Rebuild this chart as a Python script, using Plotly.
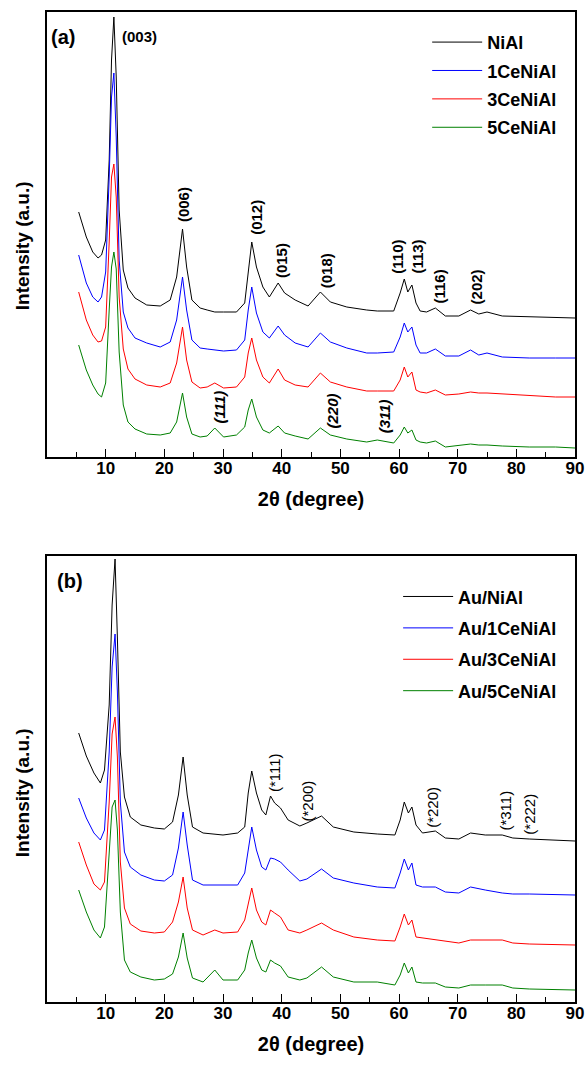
import plotly.graph_objects as go

# ---------------- data: panel (a) ----------------
theta_a = [5.4, 6.7, 7.8, 8.7, 9.3, 10.0, 10.6, 11.0, 11.4, 11.8, 12.3, 13.0, 13.8, 15.0, 17.0,
           19.3, 21.0, 22.1, 23.1, 23.8, 24.7, 26.1, 27.3, 28.6, 30.1, 32.3, 33.7, 34.3, 34.9,
           35.7, 36.8, 37.9, 39.4, 40.5, 42.3, 44.5, 46.6, 48.3, 51.1, 54.5, 56.3, 59.1, 60.2,
           60.9, 61.5, 62.2, 62.9, 63.6, 64.7, 66.2, 67.9, 70.2, 72.2, 73.6, 75.0, 77.6, 82.2,
           86.7, 90.0]
nial = [245, 220, 205, 199, 202, 217, 297, 397, 440, 380, 247, 187, 169, 159, 152,
        151, 157, 180, 228, 190, 157, 149, 147, 145, 145, 145, 154, 184, 215,
        190, 170, 160, 174, 164, 157, 151, 165, 155, 150, 147, 146, 146, 164,
        178, 165, 172, 154, 146, 145, 149, 141, 141, 147, 143, 145, 141, 140,
        139, 139]
ce1_nial = [202, 174, 160, 155, 160, 185, 280, 360, 384, 320, 197, 145, 129, 119, 114,
            110, 115, 137, 180, 147, 117, 109, 108, 107, 106, 107, 117, 147, 170,
            144, 125, 119, 131, 122, 114, 110, 124, 115, 109, 104, 104, 105, 120,
            134, 125, 130, 112, 104, 104, 108, 101, 101, 107, 102, 104, 100, 99,
            99, 99]
ce3_nial = [165, 137, 122, 115, 116, 130, 215, 280, 293, 260, 160, 108, 88, 78, 72,
            70, 74, 94, 130, 97, 75, 69, 70, 74, 69, 70, 80, 104, 119,
            97, 80, 74, 88, 77, 72, 70, 84, 75, 70, 66, 66, 66, 77,
            90, 80, 85, 67, 65, 64, 67, 62, 63, 65, 64, 64, 63, 61,
            60, 60]
ce5_nial = [112, 87, 72, 63, 60, 74, 147, 190, 205, 188, 105, 52, 35, 28, 23,
            22, 24, 35, 64, 40, 23, 20, 21, 29, 20, 22, 30, 47, 58,
            40, 27, 24, 31, 24, 21, 18, 29, 22, 18, 15, 17, 14, 22,
            30, 24, 27, 17, 15, 14, 16, 10, 12, 13, 12, 12, 11, 10,
            10, 9]
names_a = ["NiAl", "1CeNiAl", "3CeNiAl", "5CeNiAl"]

# ---------------- data: panel (b) ----------------
theta_b = [5.4, 6.7, 8.0, 9.1, 9.8, 10.6, 11.1, 11.6, 12.0, 12.5, 13.2, 14.2, 16.0, 18.3,
           20.0, 21.4, 22.4, 23.2, 23.9, 24.8, 26.6, 28.6, 30.0, 32.5, 33.7, 34.3, 34.9,
           35.7, 36.6, 37.3, 38.1, 38.8, 39.8, 41.1, 43.1, 44.3, 46.8, 48.8, 52.3, 56.3,
           59.3, 60.2, 60.9, 61.6, 62.2, 62.9, 64.0, 66.2, 67.9, 70.2, 72.2, 74.7, 77.6,
           79.4, 82.2, 90.0]
au_nial = [269, 246, 229, 219, 232, 297, 397, 443, 364, 250, 205, 185, 177, 174,
           173, 180, 207, 245, 207, 175, 169, 168, 167, 169, 175, 209, 231,
           209, 192, 187, 206, 199, 194, 182, 176, 179, 186, 175, 170, 168,
           167, 182, 200, 189, 195, 177, 169, 171, 164, 163, 169, 167, 167,
           164, 163, 161]
au_ce1 = [204, 184, 169, 162, 172, 250, 335, 368, 310, 200, 150, 135, 127, 122,
          121, 127, 154, 190, 157, 122, 117, 117, 117, 117, 129, 152, 175,
          152, 135, 132, 144, 143, 140, 132, 121, 123, 133, 124, 119, 115,
          114, 129, 143, 132, 139, 117, 115, 115, 110, 109, 115, 112, 109,
          108, 108, 107]
au_ce3 = [160, 137, 118, 112, 120, 200, 268, 285, 245, 140, 94, 78, 71, 69,
          70, 80, 100, 125, 94, 72, 67, 72, 69, 70, 82, 99, 114,
          92, 80, 77, 92, 89, 85, 72, 69, 72, 79, 72, 65, 62,
          61, 75, 88, 77, 82, 65, 64, 62, 61, 59, 62, 62, 62,
          59, 58, 57]
au_ce5 = [112, 90, 72, 64, 75, 150, 195, 202, 172, 90, 42, 30, 25, 22,
          23, 28, 45, 69, 44, 24, 20, 32, 22, 22, 32, 49, 62,
          44, 32, 30, 42, 39, 36, 25, 22, 24, 35, 25, 20, 20,
          17, 27, 39, 29, 35, 20, 19, 19, 15, 14, 17, 17, 17,
          14, 13, 12]
names_b = ["Au/NiAl", "Au/1CeNiAl", "Au/3CeNiAl", "Au/5CeNiAl"]

colors = ["#000000", "#0000ff", "#ff0000", "#008000"]

# tick labels
tick_vals = [10, 20, 30, 40, 50, 60, 70, 80, 90]
tick_text = ["10", "20", "30", "40", "50", "60", "70", "80", "90"]
minor_vals = [5, 15, 25, 35, 45, 55, 65, 75, 85]

# peak labels
labels_a = ["(006)", "(012)", "(015)", "(018)", "(110)", "(113)", "(116)", "(202)"]
labels_a_x = [23.2, 35.6, 39.9, 47.6, 59.6, 63.0, 66.9, 73.2]
labels_a_y = [252, 240, 196, 186, 200, 200, 171, 170]
labels_ce = ["(111)", "(220)", "(311)"]
labels_ce_x = [29.4, 48.5, 57.5]
labels_ce_y = [50, 46, 41]
labels_b = ["(*111)", "(*200)", "(*220)", "(*311)", "(*222)"]
labels_b_x = [38.7, 44.4, 65.6, 78.0, 82.1]
labels_b_y = [229, 201, 195, 191, 188]

FONT = "Liberation Sans, Arial, sans-serif"

fig = go.Figure()
for name, ys, c in zip(names_a, [nial, ce1_nial, ce3_nial, ce5_nial], colors):
    fig.add_trace(go.Scatter(x=theta_a, y=ys, mode="lines", name="<b>" + name + "</b>",
                             line=dict(color=c, width=1), xaxis="x", yaxis="y",
                             legend="legend", legendgroup=name))
for name, ys, c in zip(names_b, [au_nial, au_ce1, au_ce3, au_ce5], colors):
    fig.add_trace(go.Scatter(x=theta_b, y=ys, mode="lines", name="<b>" + name + "</b>",
                             line=dict(color=c, width=1), xaxis="x2", yaxis="y2",
                             legend="legend2", legendgroup=name))

ann = []
ann.append(dict(text="<b>(a)</b>", x=0.03, y=0.944, xref="x domain", yref="y domain",
                xanchor="center", yanchor="middle",
                showarrow=False, font=dict(size=20, family=FONT, color="black")))
ann.append(dict(text="<b>(b)</b>", x=0.044, y=0.943, xref="x2 domain", yref="y2 domain",
                xanchor="center", yanchor="middle",
                showarrow=False, font=dict(size=20, family=FONT, color="black")))
ann.append(dict(text="<b>(003)</b>", x=12.4, y=421, xref="x", yref="y", xanchor="left",
                showarrow=False, font=dict(size=15, family=FONT, color="black")))
for t, x, y in zip(labels_a, labels_a_x, labels_a_y):
    ann.append(dict(text="<b>" + t + "</b>", x=x, y=y, xref="x", yref="y", textangle=-90,
                    showarrow=False, font=dict(size=15, family=FONT, color="black")))
for t, x, y in zip(labels_ce, labels_ce_x, labels_ce_y):
    ann.append(dict(text="<b><i>" + t + "</i></b>", x=x, y=y, xref="x", yref="y", textangle=-90,
                    showarrow=False, font=dict(size=15, family=FONT, color="black")))
for t, x, y in zip(labels_b, labels_b_x, labels_b_y):
    ann.append(dict(text=t, x=x, y=y, xref="x2", yref="y2", textangle=-90,
                    showarrow=False, font=dict(size=15, family=FONT, color="black")))
# y-axis titles
for yc in [0.7636, 0.2111]:
    ann.append(dict(text="<b>Intensity (a.u.)</b>", x=-0.047, y=yc, xref="paper", yref="paper",
                    textangle=-90, showarrow=False, xanchor="center", yanchor="middle",
                    font=dict(size=19, family=FONT, color="black")))

xcommon = dict(range=[0, 90], tickmode="array", tickvals=tick_vals,
               ticktext=["<b>" + t + "</b>" for t in tick_text],
               ticks="inside", ticklen=8, tickwidth=1.2, tickcolor="black",
               ticklabelstandoff=-5,
               minor=dict(tickvals=minor_vals, ticks="inside",
                          ticklen=5, tickwidth=1.2, tickcolor="black"),
               showline=True, mirror=True, linecolor="black", linewidth=1.5,
               showgrid=False, zeroline=False, automargin=False,
               tickfont=dict(size=17, family=FONT, color="black"),
               title=dict(text="<b>2\u03b8 (degree)</b>", standoff=15,
                          font=dict(size=20, family=FONT, color="black")))
ycommon = dict(showline=True, mirror=True, linecolor="black", linewidth=1.5,
               showticklabels=False, ticks="", showgrid=False, zeroline=False,
               automargin=False)

fig.update_layout(
    width=585, height=1066,
    margin=dict(l=47, r=10, t=12, b=64),
    paper_bgcolor="white", plot_bgcolor="white",
    xaxis=dict(anchor="y", **xcommon),
    xaxis2=dict(anchor="y2", **xcommon),
    yaxis=dict(domain=[0.5505, 1], range=[0, 445], anchor="x", **ycommon),
    yaxis2=dict(domain=[0, 0.4505], range=[0, 446], anchor="x2", **ycommon),
    legend=dict(x=0.72, y=0.988, xanchor="left", yanchor="top", bgcolor="rgba(0,0,0,0)",
                font=dict(size=18, family=FONT, color="black"), tracegroupgap=2,
                itemwidth=50),
    legend2=dict(x=0.665, y=0.428, xanchor="left", yanchor="top", bgcolor="rgba(0,0,0,0)",
                 font=dict(size=18, family=FONT, color="black"), tracegroupgap=5,
                 itemwidth=50),
    annotations=ann,
    font=dict(family=FONT, color="black"),
)

fig.write_html("out.html", config={"displayModeBar": False},
               post_script="document.body.style.margin='0px';"
                           "document.body.style.padding='0px';"
                           "document.body.style.overflow='hidden';")
